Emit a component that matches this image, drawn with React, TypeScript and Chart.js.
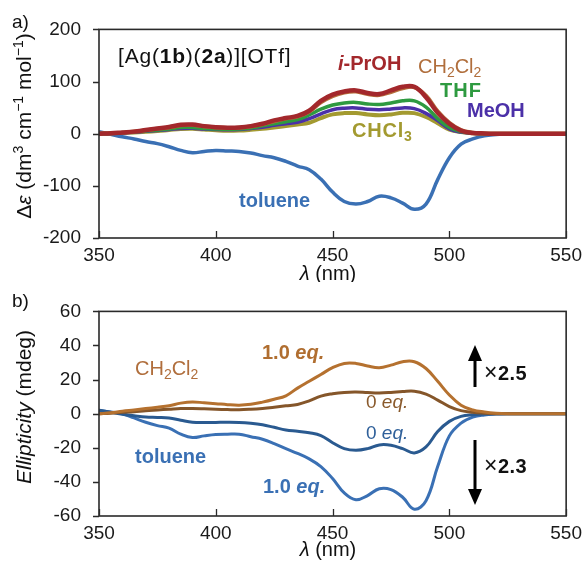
import React, { useEffect, useRef } from "react";
import { Chart, registerables } from "chart.js";

Chart.register(...registerables);

// ---------- data ----------
const wavelengths = [
  350, 355, 360, 365, 370, 375, 380, 385, 390, 395, 400, 405, 410, 415, 420, 425, 430, 435, 440, 445,
  450, 455, 460, 465, 470, 475, 480, 485, 490, 495, 500, 505, 510, 515, 520, 525, 530, 535, 540, 545, 550,
];
const xTicks = [350, 400, 450, 500, 550];
const yTicksA = [-200, -100, 0, 100, 200];
const yTicksB = [-60, -40, -20, 0, 20, 40, 60];

// panel a: Δε (dm3 cm-1 mol-1)
const iPrOH = [0, 1, 2.5, 4, 7, 10, 13, 17, 17.5, 14.5, 12.5, 11.5, 12, 14.5, 19, 25.5, 30, 34, 44, 63, 75, 81, 83, 78, 76, 83, 90, 90, 70, 40, 19, 6, 1.5, 0.5, 0, 0, 0, 0, 0, 0, 0];
const ch2cl2A = [0, 1, 2, 4, 6.5, 9.5, 12, 16, 16.5, 14, 12, 11, 11.5, 14, 18, 24, 29, 33, 42, 60, 72, 79, 81, 76, 74, 80, 87, 89, 73, 43, 21, 7, 2, 0.5, 0, 0, 0, 0, 0, 0, 0];
const thf = [0, 0.5, 2, 3.5, 5, 7, 9, 12, 12, 10, 9, 8.5, 9, 11, 15, 19, 23, 27, 36, 47, 55, 59, 60, 57, 56, 59, 63, 63, 51, 29, 12, 4, 1, 0, 0, 0, 0, 0, 0, 0, 0];
const meoh = [-1, 0, 1.5, 3, 4.5, 6, 8, 10, 10.5, 9, 8, 7.5, 8, 10, 12.5, 16, 19, 22, 29, 38, 46, 49, 49.5, 47, 46, 47.5, 49.5, 48, 39, 25, 9, 3, 1, 0, 0, 0, 0, 0, 0, 0, 0];
const chcl3 = [0, 0.5, 1.5, 2.5, 3.5, 5, 7, 9, 9.5, 8, 6.5, 5.5, 6, 7.5, 9.5, 12, 14.5, 17.5, 21, 30, 37, 39.5, 39.5, 37, 35.5, 37, 40, 39.5, 32, 20, 8, 3, 1, 0, 0, 0, 0, 0, 0, 0, 0];
const tolueneA = [4, -1, -6, -10, -15, -19, -25, -32, -36.5, -34, -32, -33, -34, -37, -42, -46, -53, -62, -69, -87, -112, -130, -135, -130, -120, -123, -133, -145, -135, -88, -46, -20, -10, -4, -1.5, 0, 0, 0, 0, 0, 0];

// panel b: ellipticity (mdeg)
const ch2cl2Eq10 = [0, 0.5, 1.5, 2.2, 3, 3.8, 4.7, 6.2, 6.9, 6.4, 5.9, 5.3, 5, 5.5, 6.8, 8.5, 10.5, 15, 19, 23, 27, 29.5, 29.5, 28, 27, 28.5, 30.5, 30.5, 26.5, 19, 11, 5, 2.2, 1, 0.3, 0, 0, 0, 0, 0, 0];
const ch2cl2Eq0 = [0, 0.3, 0.8, 1.2, 1.8, 2.2, 2.6, 3, 3.1, 2.9, 2.6, 2.4, 2.3, 2.6, 3.1, 3.8, 4.6, 5.4, 7.5, 10.3, 11.7, 12.5, 12.7, 12.4, 12.2, 12.5, 13, 13.2, 11.5, 8, 4.2, 1.8, 0.8, 0.3, 0, 0, 0, 0, 0, 0, 0];
const tolueneEq0 = [2, 0.8, -0.3, -1.2, -2, -2.2, -2.5, -3.8, -5, -5.2, -5.1, -5, -5.1, -5.6, -6.5, -8, -9.5, -10.3, -11.2, -12.8, -17, -20.5, -21.5, -20.5, -18.3, -18.5, -20.5, -23, -19.5, -10.5, -4.5, -1.6, -0.6, -0.2, 0, 0, 0, 0, 0, 0, 0];
const tolueneEq10 = [2, 1, 0, -2.5, -5, -7, -8.5, -12, -14, -13, -12.2, -12, -12, -13.5, -15, -17.5, -20.5, -23.3, -26.5, -31, -38, -46.5, -50.5, -48, -44, -44.5, -49, -56, -51, -31, -13, -5.5, -2, -0.7, -0.2, 0, 0, 0, 0, 0, 0];

// ---------- helpers ----------
const FONT = '"Liberation Sans", Arial, Helvetica, sans-serif';

type Seg = { t: string; b?: boolean; i?: boolean; sub?: boolean; sup?: boolean; size?: number };
type Label = { segs: Seg[]; x: number; y: number; color: string; size: number; rotate?: boolean; center?: boolean; spacing?: number };
type Arrow = { x: number; from: number; to: number };

function segFont(s: Seg, size: number) {
  const base = s.size || size;
  const sz = s.sub || s.sup ? Math.round(base * 0.68) : base;
  return `${s.i ? "italic " : ""}${s.b ? "bold " : ""}${sz}px ${FONT}`;
}

function drawRich(ctx: CanvasRenderingContext2D, lab: Label) {
  ctx.save();
  ctx.fillStyle = lab.color;
  ctx.textBaseline = "alphabetic";
  ctx.textAlign = "left";
  (ctx as any).letterSpacing = `${lab.spacing || 0}px`;
  const widths = lab.segs.map((s) => {
    ctx.font = segFont(s, lab.size);
    return ctx.measureText(s.t).width;
  });
  const total = widths.reduce((a, b) => a + b, 0);
  ctx.translate(lab.x, lab.y);
  if (lab.rotate) ctx.rotate(-Math.PI / 2);
  let cx = lab.center ? -total / 2 : 0;
  lab.segs.forEach((s, k) => {
    ctx.font = segFont(s, lab.size);
    const dy = s.sub ? lab.size * 0.22 : s.sup ? -lab.size * 0.4 : 0;
    ctx.fillText(s.t, cx, dy);
    cx += widths[k];
  });
  ctx.restore();
}

function overlay(labels: Label[], arrows: Arrow[]) {
  return {
    id: "overlay",
    afterDraw(chart: any) {
      const { ctx, chartArea: ca, scales } = chart;
      ctx.save();
      ctx.strokeStyle = "#2a2a2a";
      ctx.lineWidth = 1.6;
      ctx.strokeRect(ca.left, ca.top, ca.right - ca.left, ca.bottom - ca.top);
      ctx.lineWidth = 1.3;
      ctx.beginPath();
      scales.y.ticks.forEach((t: any) => {
        const py = Math.round(scales.y.getPixelForValue(t.value)) + 0.5;
        ctx.moveTo(ca.left - 6, py);
        ctx.lineTo(ca.left, py);
      });
      scales.x.ticks.forEach((t: any) => {
        const px = Math.round(scales.x.getPixelForValue(t.value)) + 0.5;
        ctx.moveTo(px, ca.bottom);
        ctx.lineTo(px, ca.bottom - 7);
      });
      ctx.stroke();
      // arrows
      arrows.forEach((a) => {
        const dir = a.to < a.from ? -1 : 1;
        const headLen = 16;
        const half = 7;
        ctx.strokeStyle = "#000";
        ctx.fillStyle = "#000";
        ctx.lineWidth = 3;
        ctx.beginPath();
        ctx.moveTo(a.x, a.from);
        ctx.lineTo(a.x, a.to - dir * headLen);
        ctx.stroke();
        ctx.beginPath();
        ctx.moveTo(a.x, a.to);
        ctx.lineTo(a.x - half, a.to - dir * headLen);
        ctx.lineTo(a.x + half, a.to - dir * headLen);
        ctx.closePath();
        ctx.fill();
      });
      ctx.restore();
      labels.forEach((l) => drawRich(ctx, l));
    },
  };
}

function makeChart(
  canvas: HTMLCanvasElement,
  series: { data: number[]; color: string; width: number }[],
  yMin: number,
  yMax: number,
  yTickValues: number[],
  topPad: number,
  xAxisHeight: number,
  labels: Label[],
  arrows: Arrow[]
) {
  return new Chart(canvas, {
    type: "line",
    data: {
      datasets: series.map((s) => ({
        data: wavelengths.map((x, k) => ({ x, y: s.data[k] })),
        borderColor: s.color,
        borderWidth: s.width,
        pointRadius: 0,
        tension: 0.4,
        fill: false,
      })),
    },
    options: {
      responsive: false,
      animation: false,
      events: [],
      layout: { padding: { top: topPad, right: 19, bottom: 0, left: 0 } },
      plugins: { legend: { display: false }, tooltip: { enabled: false } },
      scales: {
        x: {
          type: "linear",
          min: 350,
          max: 550,
          afterBuildTicks: (s: any) => {
            s.ticks = xTicks.map((v) => ({ value: v }));
          },
          afterFit: (s: any) => {
            s.height = xAxisHeight;
          },
          grid: { display: false, drawTicks: false },
          border: { display: false },
          ticks: { font: { family: FONT, size: 19 }, color: "#1a1a1a", padding: 6, maxRotation: 0 },
        },
        y: {
          min: yMin,
          max: yMax,
          afterBuildTicks: (s: any) => {
            s.ticks = yTickValues.map((v) => ({ value: v }));
          },
          afterFit: (s: any) => {
            s.width = 99;
          },
          grid: { display: false, drawTicks: false },
          border: { display: false },
          ticks: { font: { family: FONT, size: 19 }, color: "#1a1a1a", padding: 18 },
        },
      },
    },
    plugins: [overlay(labels, arrows)],
  } as any);
}

// ---------- labels ----------
const labelsA: Label[] = [
  { segs: [{ t: "a)" }], x: 12, y: 28, color: "#111", size: 19 },
  {
    segs: [{ t: "[Ag(" }, { t: "1b", b: true }, { t: ")(" }, { t: "2a", b: true }, { t: ")][OTf]" }],
    x: 118, y: 63, color: "#111", size: 21, spacing: 0.8,
  },
  { segs: [{ t: "i", b: true, i: true }, { t: "-PrOH", b: true }], x: 338, y: 70, color: "#a3282c", size: 20 },
  { segs: [{ t: "CH" }, { t: "2", sub: true }, { t: "Cl" }, { t: "2", sub: true }], x: 418, y: 73, color: "#b06e3c", size: 20 },
  { segs: [{ t: "THF", b: true }], x: 440, y: 97, color: "#2e9a40", size: 20, spacing: 1 },
  { segs: [{ t: "MeOH", b: true }], x: 467, y: 117, color: "#4b30a8", size: 20 },
  { segs: [{ t: "CHCl", b: true }, { t: "3", b: true, sub: true }], x: 352, y: 137, color: "#a39a30", size: 20, spacing: 0.8 },
  { segs: [{ t: "toluene", b: true }], x: 239, y: 207, color: "#3a70b4", size: 20 },
  {
    segs: [{ t: "Δ" }, { t: "ε", i: true }, { t: " (dm" }, { t: "3", sup: true }, { t: " cm" }, { t: "−1", sup: true }, { t: " mol" }, { t: "−1", sup: true }, { t: ")" }],
    x: 31, y: 126, color: "#111", size: 21, rotate: true, center: true,
  },
  { segs: [{ t: "λ", i: true }, { t: " (nm)" }], x: 328, y: 280, color: "#111", size: 20, center: true },
];

const labelsB: Label[] = [
  { segs: [{ t: "b)" }], x: 12, y: 25, color: "#111", size: 19 },
  { segs: [{ t: "CH" }, { t: "2", sub: true }, { t: "Cl" }, { t: "2", sub: true }], x: 135, y: 93, color: "#b06e3c", size: 20 },
  { segs: [{ t: "1.0 ", b: true }, { t: "eq.", b: true, i: true }], x: 262, y: 77, color: "#b06e30", size: 20 },
  { segs: [{ t: "0 " }, { t: "eq.", i: true }], x: 366, y: 126, color: "#8a5a2c", size: 19 },
  { segs: [{ t: "0 " }, { t: "eq.", i: true }], x: 366, y: 157, color: "#2f609a", size: 19 },
  { segs: [{ t: "toluene", b: true }], x: 135, y: 181, color: "#3a70b4", size: 20 },
  { segs: [{ t: "1.0 ", b: true }, { t: "eq.", b: true, i: true }], x: 263, y: 211, color: "#3a70b4", size: 20 },
  { segs: [{ t: "×", size: 23 }, { t: "2.5", b: true }], x: 484, y: 98, color: "#111", size: 20, spacing: 0.5 },
  { segs: [{ t: "×", size: 23 }, { t: "2.3", b: true }], x: 484, y: 191, color: "#111", size: 20, spacing: 0.5 },
  {
    segs: [{ t: "Ellipticity", i: true }, { t: " (mdeg)" }],
    x: 31, y: 125, color: "#111", size: 21, rotate: true, center: true,
  },
  { segs: [{ t: "λ", i: true }, { t: " (nm)" }], x: 328, y: 274, color: "#111", size: 20, center: true },
];

const arrowsB: Arrow[] = [
  { x: 475, from: 105, to: 63 },
  { x: 475, from: 158, to: 223 },
];

export default function App() {
  const refA = useRef<HTMLCanvasElement>(null);
  const refB = useRef<HTMLCanvasElement>(null);

  useEffect(() => {
    const a = makeChart(
      refA.current!,
      [
        { data: iPrOH, color: "#a3282c", width: 4.5 },
        { data: ch2cl2A, color: "#b5713c", width: 4 },
        { data: thf, color: "#2e9a40", width: 3.5 },
        { data: meoh, color: "#4b30a8", width: 3.5 },
        { data: chcl3, color: "#a39a30", width: 4 },
        { data: tolueneA, color: "#3a70b4", width: 3.5 },
      ],
      -200, 200, yTicksA, 20, 44, labelsA, []
    );
    const b = makeChart(
      refB.current!,
      [
        { data: ch2cl2Eq10, color: "#b5712f", width: 3 },
        { data: ch2cl2Eq0, color: "#85562a", width: 3 },
        { data: tolueneEq0, color: "#2a5a90", width: 3 },
        { data: tolueneEq10, color: "#3a70b4", width: 3 },
      ],
      -60, 60, yTicksB, 17, 48, labelsB, arrowsB
    );
    return () => {
      a.destroy();
      b.destroy();
    };
  }, []);

  return (
    <div style={{ position: "absolute", left: 0, top: 0, width: 588, height: 564, background: "#fff" }}>
      <canvas ref={refA} width={588} height={282} style={{ display: "block", width: 588, height: 282 }} />
      <canvas ref={refB} width={588} height={282} style={{ display: "block", width: 588, height: 282 }} />
    </div>
  );
}
